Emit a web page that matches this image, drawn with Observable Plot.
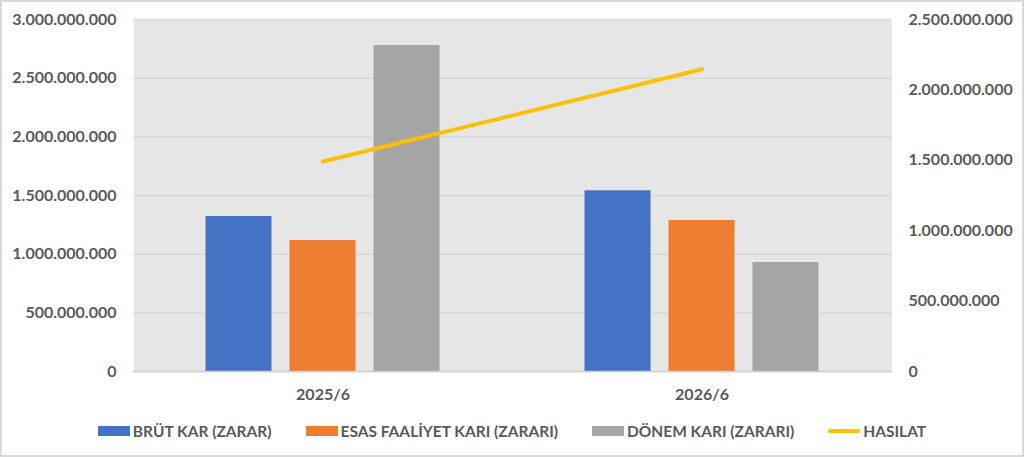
<!DOCTYPE html>
<html>
<head>
<meta charset="utf-8">
<script src="https://cdn.jsdelivr.net/npm/d3@7"></script>
<script src="https://cdn.jsdelivr.net/npm/@observablehq/plot@0.6"></script>
<style>
  body { margin: 0; background: #fff; }
  #wrap { position: relative; width: 1024px; height: 457px; overflow: hidden; font-family: Lato, "Open Sans", sans-serif; }
  #wrap svg { position: absolute; left: 0; top: 0; }
  #border { position: absolute; left: 0; top: 0; width: 1024px; height: 457px; box-sizing: border-box; border: 2px solid #d9d9d9; pointer-events: none; }
  #legend { position: absolute; left: 0; top: 410px; width: 1024px; height: 42px; display: flex; justify-content: center; align-items: center; gap: 34px; color: #595959; font-weight: 700; font-size: 15.5px; }
  .item { display: flex; align-items: center; gap: 3px; }
  .sw { width: 32px; height: 10px; }
  .ln { width: 32px; height: 4px; border-radius: 2px; }
</style>
</head>
<body>
<div id="wrap"><div id="legend"></div><div id="border"></div></div>
<script>
const categories = ["2025/6", "2026/6"];
const series = ["BRÜT KAR (ZARAR)", "ESAS FAALİYET KARI (ZARARI)", "DÖNEM KARI (ZARARI)"];
const brutKar = [1321000000, 1540000000];
const esasFaaliyetKari = [1116000000, 1287000000];
const donemKari = [2778000000, 929000000];
const hasilatLabel = "HASILAT";
const hasilat = [1491000000, 2147000000];
const leftTicks = [0, 500000000, 1000000000, 1500000000, 2000000000, 2500000000, 3000000000];
const rightTicks = [0, 500000000, 1000000000, 1500000000, 2000000000, 2500000000];
const colors = ["#4472c4", "#ed7d31", "#a5a5a5"];
const lineColor = "#ffc000";

const seriesValues = [brutKar, esasFaaliyetKari, donemKari];
const bars = [];
categories.forEach((c, i) => series.forEach((s, j) => bars.push({cat: c, series: s, value: seriesValues[j][i]})));
const lineData = categories.map((c, i) => ({cat: c, value: hasilat[i]}));

const fmt = d3.formatLocale({decimal: ",", thousands: ".", grouping: [3], currency: ["", ""]}).format(",");

const W = 1024, H = 410, ML = 133, MR = 133, MT = 19, MB = 39;
const style = {fontFamily: "Lato, 'Open Sans', sans-serif", fontWeight: "700", fontSize: "16px", color: "#595959", background: "transparent", overflow: "visible"};

const main = Plot.plot({
  width: W, height: H, marginLeft: ML, marginRight: MR, marginTop: MT, marginBottom: MB,
  style,
  fx: {domain: categories, padding: 0},
  x: {domain: series, paddingInner: 0.214, paddingOuter: 0.863, round: false, axis: null},
  y: {domain: [0, 3000000000], axis: null},
  color: {domain: series, range: colors},
  marks: [
    Plot.frame({fill: "#e6e6e6", stroke: null, shapeRendering: "crispEdges"}),
    Plot.gridY(leftTicks, {stroke: "#d9d9d9", strokeOpacity: 1, strokeWidth: 1.5}),
    Plot.barY(bars, {fx: "cat", x: "series", y: "value", fill: "series"}),
    Plot.ruleY([0], {stroke: "#d0d0d0", strokeWidth: 1.5}),
    Plot.axisY({ticks: leftTicks, tickFormat: fmt, tickSize: 0, tickPadding: 17, label: null, fill: "#595959"}),
    Plot.axisFx({anchor: "bottom", tickSize: 0, tickPadding: 17, label: null, fill: "#595959"})
  ]
});

const overlay = Plot.plot({
  width: W, height: H, marginLeft: ML, marginRight: MR, marginTop: MT, marginBottom: MB,
  style,
  x: {type: "band", domain: categories, padding: 0, axis: null},
  y: {domain: [0, 2500000000], axis: null},
  marks: [
    Plot.line(lineData, {x: "cat", y: "value", stroke: lineColor, strokeWidth: 4, strokeLinecap: "round"}),
    Plot.axisY({anchor: "right", ticks: rightTicks, tickFormat: fmt, tickSize: 0, tickPadding: 17, label: null, fill: "#595959"})
  ]
});

const wrap = document.getElementById("wrap");
wrap.insertBefore(overlay, wrap.firstChild);
wrap.insertBefore(main, wrap.firstChild);

const legend = document.getElementById("legend");
series.forEach((s, j) => {
  const it = document.createElement("div"); it.className = "item";
  const sw = document.createElement("div"); sw.className = "sw"; sw.style.background = colors[j];
  const t = document.createElement("span"); t.textContent = s;
  it.append(sw, t); legend.append(it);
});
{
  const it = document.createElement("div"); it.className = "item";
  const sw = document.createElement("div"); sw.className = "ln"; sw.style.background = lineColor;
  const t = document.createElement("span"); t.textContent = hasilatLabel;
  it.append(sw, t); legend.append(it);
}
</script>
</body>
</html>
